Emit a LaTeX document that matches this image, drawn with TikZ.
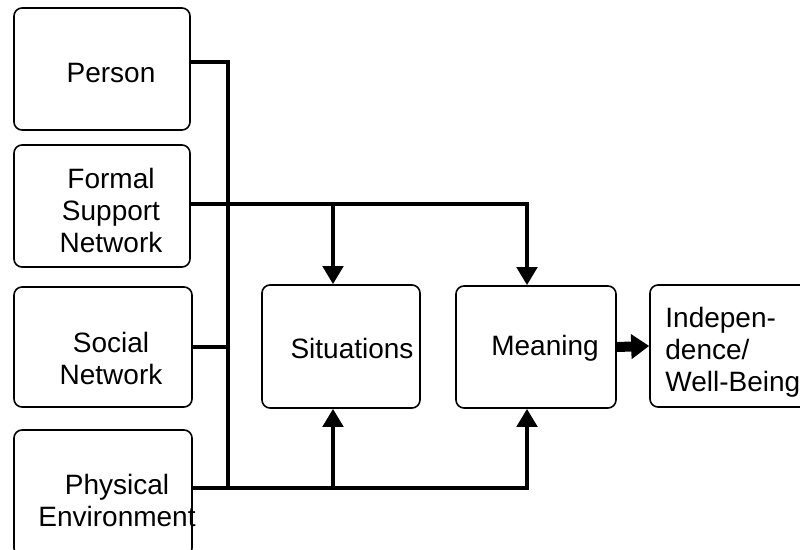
\documentclass[tikz,border=0pt]{standalone}
\usepackage{fontspec}
\setmainfont{Liberation Sans}
\usetikzlibrary{arrows.meta}
\tikzset{
  box/.style={draw, rounded corners=4pt, line width=0.8pt, inner sep=0pt},
  txt/.style={font=\fontsize{14}{16}\selectfont, align=center, inner sep=0pt},
  flow/.style={line width=2.3pt, line join=miter},
  tip/.style={-{Triangle[length=9pt,width=10pt]}}
}
\begin{document}
\begin{tikzpicture}[x=0.5pt, y=-0.5pt]
   \useasboundingbox (0,0) rectangle (800,550);
   \clip (0,0) rectangle (800,550);
      \node[box, minimum width=88pt, minimum height=61pt] (person) at (102,69) {};
      \node[box, minimum width=88pt, minimum height=61pt] (formal) at (102,206) {};
      \node[box, minimum width=89pt, minimum height=60pt] (social) at (103,347) {};
      \node[box, minimum width=89pt, minimum height=63pt] (physical) at (103,493) {};
      \node[box, minimum width=79pt, minimum height=61.5pt] (sit) at (341,346.5) {};
      \node[box, minimum width=80pt, minimum height=61pt] (mean) at (536,347) {};
      \node[box, minimum width=80pt, minimum height=61pt] (indep) at (730,346) {};
      \node[txt] (person-t) at (111,73) {Person};
      \node[txt] (formal-t) at (111,210) {Formal\\Support\\Network};
      \node[txt] (social-t) at (111,358) {Social\\Network};
      \node[txt] (physical-t) at (117,500) {Physical\\Environment};
      \node[txt] (sit-t) at (352,348) {Situations};
      \node[txt] (mean-t) at (545,348) {Meaning};
      \node[txt, align=left, anchor=west] (indep-t) at (665,352) {Indepen-\\dence/\\Well-Being};
      \coordinate (top) at (228,62);
      \coordinate (bot) at (228,488);
      \coordinate (fe) at ([yshift=1pt]formal.east);
      \coordinate (sn) at ([xshift=-4pt]sit.north);
      \coordinate (ss) at ([xshift=-4pt]sit.south);
      \coordinate (mn) at ([xshift=-4.5pt]mean.north);
      \coordinate (ms) at ([xshift=-4.5pt]mean.south);
      \draw[flow] ([yshift=3.5pt]person.east) -- (top) -- (bot);
      \draw[flow] (social.east) -- (social.east -| top);
      \draw[flow, tip] (fe) -- (mn |- fe) -- (mn);
      \draw[flow, tip] (sn |- fe) -- (sn);
      \draw[flow, tip] (physical.east |- bot) -- (ms |- bot) -- (ms);
      \draw[flow, tip] (ss |- bot) -- (ss);
      \draw[line width=5pt, -{Triangle[length=9pt,width=12pt]}] (mean.east) -- (indep.west);
   \end{tikzpicture}
\end{document}
